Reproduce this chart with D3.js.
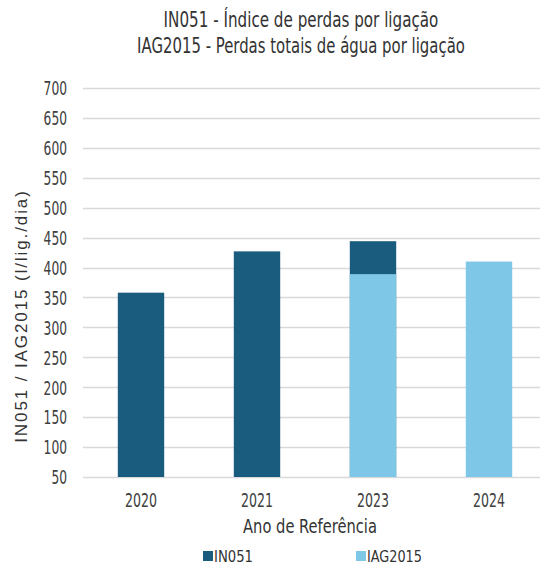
<!DOCTYPE html>
<html>
<head>
<meta charset="utf-8">
<script src="https://cdn.jsdelivr.net/npm/d3@7"></script>
<style>
  html, body { margin: 0; padding: 0; background: #fff; }
  svg { display: block; }
</style>
</head>
<body>
<div id="chart"></div>
<script>
// IN051 / IAG2015 - losses per connection, by reference year

const years   = ["2020", "2021", "2023", "2024"];
const in051   = [358, 427, 444, null];
const iag2015 = [null, null, 389, 410];
const yTicks  = [50, 100, 150, 200, 250, 300, 350, 400, 450, 500, 550, 600, 650, 700];

const titleLines = [
  "IN051 - Índice de perdas por ligação",
  "IAG2015 - Perdas totais de água por ligação",
];
const yTitle = "IN051 / IAG2015 (l/lig./dia)";
const xTitle = "Ano de Referência";
const seriesNames = ["IN051", "IAG2015"];

const W = 545, H = 565;
const colors = { IN051: "#1A5C7E", IAG2015: "#7FC7E7" };
const narrow = "'DejaVu Sans Condensed', 'Liberation Sans', sans-serif";
const textCol = "#333";

// squeeze a text horizontally to a target width, anchored at (cx, cy)
function squeeze(text, width, cx, cy, anchor) {
  const w = text.node().getComputedTextLength();
  const k = w > 0 ? width / w : 1;
  text.attr("x", 0).attr("y", 0)
    .attr("text-anchor", anchor)
    .attr("transform", `translate(${cx},${cy}) scale(${k},1)`);
}

const svg = d3.select("#chart").append("svg")
  .attr("width", W).attr("height", H);

const plot = { left: 83, right: 547, top: 88, bottom: 477, gridEnd: 540 };

const x = d3.scaleBand()
  .domain(years)
  .range([plot.left, plot.right])
  .paddingInner(0.6)
  .paddingOuter(0.3);

const y = d3.scaleLinear()
  .domain([50, 700])
  .range([plot.bottom, plot.top]);

// gridlines
svg.append("g")
  .selectAll("line")
  .data(yTicks)
  .join("line")
    .attr("x1", plot.left)
    .attr("x2", plot.gridEnd)
    .attr("y1", d => Math.round(y(d)) + 0.5)
    .attr("y2", d => Math.round(y(d)) + 0.5)
    .attr("stroke", "#d9d9d9")
    .attr("stroke-width", 1.3);

// y axis labels
const yAxis = d3.axisLeft(y).tickValues(yTicks).tickSize(0).tickPadding(0);
svg.append("g")
  .attr("transform", `translate(67,0)`)
  .call(yAxis)
  .call(g => g.select(".domain").remove())
  .call(g => g.selectAll(".tick text")
    .attr("font-family", narrow)
    .attr("font-size", "19.5px")
    .attr("fill", "#404040")
    .each(function (d) {
      const t = d3.select(this);
      squeeze(t, String(d).length * 7.8, 0, 0, "end");
      t.attr("dy", "0.35em");
    }));

// bars: IN051 behind, IAG2015 in front
const bars = [
  { name: "IN051",   values: in051 },
  { name: "IAG2015", values: iag2015 },
];
bars.forEach(s => {
  svg.append("g")
    .selectAll("rect")
    .data(years.map((yr, i) => ({ yr, v: s.values[i] })).filter(d => d.v != null))
    .join("rect")
      .attr("x", d => x(d.yr))
      .attr("width", x.bandwidth())
      .attr("y", d => y(d.v))
      .attr("height", d => y(50) - y(d.v))
      .attr("fill", colors[s.name]);
});

// x axis labels
const xAxis = d3.axisBottom(x).tickSize(0).tickPadding(0);
svg.append("g")
  .attr("transform", `translate(0,${plot.bottom + 30})`)
  .call(xAxis)
  .call(g => g.select(".domain").remove())
  .call(g => g.selectAll(".tick text")
    .attr("font-family", narrow)
    .attr("font-size", "20px")
    .attr("fill", "#404040")
    .each(function () {
      const t = d3.select(this);
      squeeze(t, 32, 0, 0, "middle");
      t.attr("dy", null);
    }));

// titles
const titleY = [27, 53];
const titleW = [275, 328];
titleLines.forEach((t, i) => {
  const txt = svg.append("text")
    .attr("font-family", narrow)
    .attr("font-size", "21px")
    .attr("fill", textCol)
    .text(t);
  squeeze(txt, titleW[i], 301, titleY[i], "middle");
});

// y title
svg.append("text")
  .attr("transform", "translate(27,316) rotate(-90)")
  .attr("text-anchor", "middle")
  .attr("font-family", "'Liberation Sans', Arial, sans-serif")
  .attr("font-size", "17px")
  .attr("fill", textCol)
  .attr("letter-spacing", "1.9px")
  .text(yTitle);

// x title
const xt = svg.append("text")
  .attr("font-family", narrow)
  .attr("font-size", "19px")
  .attr("fill", textCol)
  .text(xTitle);
squeeze(xt, 134, 310, 533, "middle");

// legend
const legendX = [203, 356];
const legendW = [39, 55];
seriesNames.forEach((n, i) => {
  svg.append("rect")
    .attr("x", legendX[i]).attr("y", 551)
    .attr("width", 10).attr("height", 10)
    .attr("fill", colors[n]);
  const lt = svg.append("text")
    .attr("font-family", narrow)
    .attr("font-size", "15.5px")
    .attr("fill", textCol)
    .text(n);
  squeeze(lt, legendW[i], legendX[i] + 11, 561.5, "start");
});
</script>
</body>
</html>
